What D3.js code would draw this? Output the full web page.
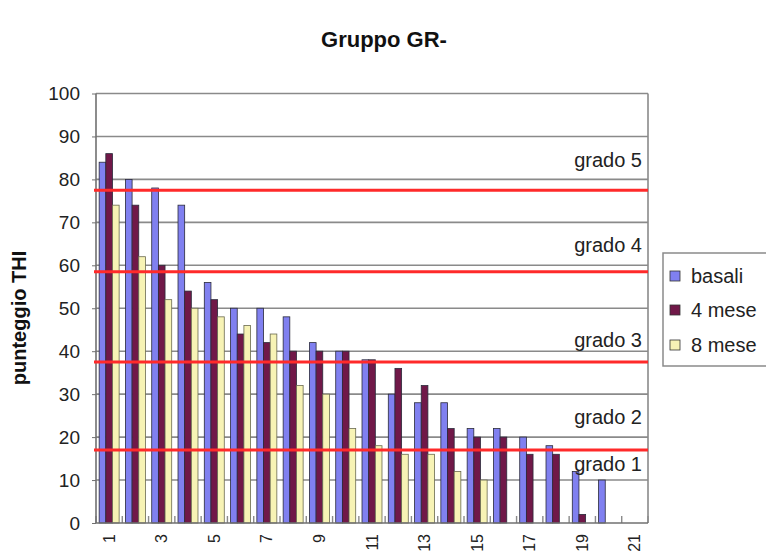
<!DOCTYPE html>
<html>
<head>
<meta charset="utf-8">
<script src="https://cdn.jsdelivr.net/npm/d3@7/dist/d3.min.js"></script>
<style>
  html, body { margin: 0; padding: 0; background: #fff; overflow: hidden; }
  svg { display: block; font-family: "Liberation Sans", Arial, sans-serif; }
</style>
</head>
<body>
<svg id="chart" width="766" height="553"></svg>
<script>
// ---- data ----
const categories = ["1","2","3","4","5","6","7","8","9","10","11","12","13","14","15","16","17","18","19","20","21"];
const seriesNames = ["basali", "4 mese", "8 mese"];
const basali = [84, 80, 78, 74, 56, 50, 50, 48, 42, 40, 38, 30, 28, 28, 22, 22, 20, 18, 12, 10, 0];
const mese4  = [86, 74, 60, 54, 52, 44, 42, 40, 40, 40, 38, 36, 32, 22, 20, 20, 16, 16, 2, 0, 0];
const mese8  = [74, 62, 52, 50, 48, 46, 44, 32, 30, 22, 18, 16, 16, 12, 10, 0, 0, 0, 0, 0, 0];
const yTicks = [0, 10, 20, 30, 40, 50, 60, 70, 80, 90, 100];
const gradeThresholds = [77.5, 58.5, 37.5, 17];
const gradeLabels = ["grado 5", "grado 4", "grado 3", "grado 2", "grado 1"];
const gradeLabelValues = [83, 63, 41, 23, 12];
const titleText = "Gruppo GR-";
const yTitle = "punteggio THI";

// ---- layout ----
const svg = d3.select("#chart");
const plot = { left: 96, right: 648, top: 93.5, bottom: 523 };
const colors = ["#8080f0", "#701848", "#f7f3b5"];

const x = d3.scaleBand().domain(categories).range([plot.left, plot.right])
  .paddingInner(0.24).paddingOuter(0.12);
const xs = d3.scaleBand().domain(seriesNames).range([0, x.bandwidth()]).padding(0);
const y = d3.scaleLinear().domain([0, 100]).range([plot.bottom, plot.top]);

const values = [basali, mese4, mese8];
const rows = categories.map((c, i) => ({ cat: c, vals: seriesNames.map((s, k) => ({ s, v: values[k][i], k })) }));

// plot background
svg.append("rect").attr("x", plot.left).attr("y", plot.top)
  .attr("width", plot.right - plot.left).attr("height", plot.bottom - plot.top)
  .attr("fill", "#fff");

// gridlines
svg.append("g").selectAll("line").data(yTicks.filter(t => t > 0)).join("line")
  .attr("x1", plot.left).attr("x2", plot.right)
  .attr("y1", d => y(d)).attr("y2", d => y(d))
  .attr("stroke", "#8a8a8a").attr("stroke-width", 1.6);

// right border
svg.append("line").attr("x1", plot.right).attr("x2", plot.right)
  .attr("y1", plot.top).attr("y2", plot.bottom)
  .attr("stroke", "#8a8a8a").attr("stroke-width", 1.6);

// bars
const groups = svg.append("g").selectAll("g").data(rows).join("g")
  .attr("transform", d => `translate(${x(d.cat)},0)`);
groups.selectAll("rect").data(d => d.vals.filter(e => e.v > 0)).join("rect")
  .attr("x", d => xs(d.s))
  .attr("y", d => y(d.v))
  .attr("width", xs.bandwidth())
  .attr("height", d => y(0) - y(d.v))
  .attr("fill", d => colors[d.k])
  .attr("stroke", d => d.k === 2 ? "#6a6a50" : "#2a2a3a")
  .attr("stroke-width", 0.8);

// x-axis category ticks (inside, at group boundaries)
const step = x.step();
const boundaries = categories.map(c => x(c) - x.paddingInner() * step / 2).concat([plot.right]);
svg.append("g").selectAll("line").data(boundaries).join("line")
  .attr("x1", d => d).attr("x2", d => d)
  .attr("y1", plot.bottom).attr("y2", plot.bottom - 7)
  .attr("stroke", "#8a8a8a").attr("stroke-width", 1.4);

// axes lines
svg.append("line").attr("x1", plot.left).attr("x2", plot.right)
  .attr("y1", plot.bottom).attr("y2", plot.bottom)
  .attr("stroke", "#707070").attr("stroke-width", 1.6);
svg.append("line").attr("x1", plot.left).attr("x2", plot.left)
  .attr("y1", plot.top).attr("y2", plot.bottom)
  .attr("stroke", "#707070").attr("stroke-width", 1.6);

// y axis labels
const yAxis = d3.axisLeft(y).tickValues(yTicks).tickSize(4).tickPadding(12).tickFormat(d3.format("d"));
const gy = svg.append("g").attr("transform", `translate(${plot.left},0)`).call(yAxis);
gy.select(".domain").remove();
gy.selectAll(".tick line").attr("stroke", "#707070");
gy.selectAll(".tick text").attr("font-size", 19).attr("fill", "#222")
  .attr("font-family", "Liberation Sans, Arial, sans-serif");

// x axis labels (odd categories), rotated
const xAxis = d3.axisBottom(x).tickValues(categories.filter((c, i) => i % 2 === 0)).tickSize(0);
const gx = svg.append("g").attr("transform", `translate(0,${plot.bottom})`).call(xAxis);
gx.select(".domain").remove();
gx.selectAll(".tick text")
  .attr("font-size", 16).attr("fill", "#222")
  .attr("font-family", "Liberation Sans, Arial, sans-serif")
  .attr("text-anchor", "end")
  .attr("dy", "0.35em")
  .attr("transform", "translate(0,11) rotate(-90)")
  .attr("x", 0).attr("y", 0);

// red grade threshold lines
svg.append("g").selectAll("line").data(gradeThresholds).join("line")
  .attr("x1", plot.left - 2).attr("x2", plot.right)
  .attr("y1", d => y(d)).attr("y2", d => y(d))
  .attr("stroke", "#ff2a2a").attr("stroke-width", 3);

// grade labels
svg.append("g").selectAll("text").data(gradeLabels).join("text")
  .attr("x", plot.right - 6)
  .attr("y", (d, i) => y(gradeLabelValues[i]))
  .attr("text-anchor", "end")
  .attr("font-size", 20).attr("fill", "#222")
  .text(d => d);

// title
svg.append("text").attr("x", 384).attr("y", 47).attr("text-anchor", "middle")
  .attr("font-size", 22).attr("font-weight", "bold").attr("fill", "#111")
  .text(titleText);

// y title
svg.append("text").attr("transform", "translate(26,318) rotate(-90)")
  .attr("text-anchor", "middle")
  .attr("font-size", 20).attr("font-weight", "bold").attr("fill", "#111")
  .text(yTitle);

// legend
const lg = svg.append("g");
lg.append("rect").attr("x", 663).attr("y", 253).attr("width", 130).attr("height", 113)
  .attr("fill", "#fff").attr("stroke", "#8a8a8a").attr("stroke-width", 1.5);
const legendY = [276, 310, 345];
const items = lg.selectAll("g.item").data(seriesNames).join("g").attr("class", "item")
  .attr("transform", (d, i) => `translate(670,${legendY[i]})`);
items.append("rect").attr("x", 0).attr("y", -5).attr("width", 10).attr("height", 10)
  .attr("fill", (d, i) => colors[i]).attr("stroke", "#333").attr("stroke-width", 0.8);
items.append("text").attr("x", 21).attr("y", 0).attr("dy", "0.35em")
  .attr("font-size", 20).attr("fill", "#222").text(d => d);
</script>
</body>
</html>
